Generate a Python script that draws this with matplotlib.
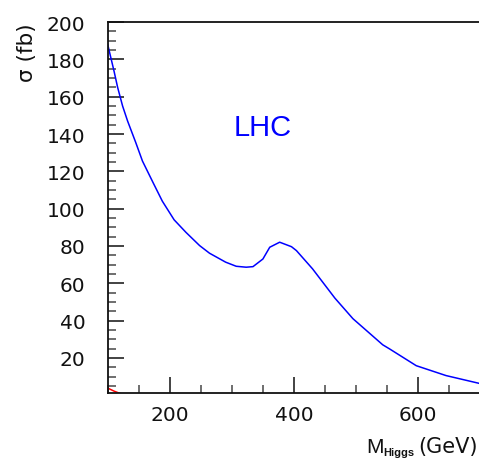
import matplotlib
matplotlib.use("Agg")
import matplotlib.pyplot as plt
from matplotlib.ticker import MultipleLocator

plt.rcParams['font.family'] = ['DejaVu Sans']

# Data
mass = [100, 105, 110, 116, 124, 132, 145, 156, 173, 188, 207, 226, 248, 264,
        290, 307, 323, 334, 350, 361, 377, 396, 404, 430, 466, 495, 543, 554,
        597, 645, 700]
sigma_lhc = [188, 181, 174, 165, 155, 147, 135.6, 125.5, 114, 104, 94, 87.3,
             80.2, 76.1, 71.3, 69.1, 68.6, 68.9, 73, 79.3, 82, 79.6, 77.5, 67.7,
             52, 41, 27, 24.8, 15.8, 10.5, 6.2]
mass_red = [100, 110, 120, 130]
sigma_red = [3.8, 2.2, 0.9, 0.0]

xticks = [200, 400, 600]
yticks = [20, 40, 60, 80, 100, 120, 140, 160, 180, 200]

W, H = 479, 460
fig = plt.figure(figsize=(W / 100, H / 100), dpi=100)
ax = fig.add_axes([107.7 / W, 65.7 / H, (480.2 - 107.7) / W, (394.3 - 23.1) / H])

ax.plot(mass, sigma_lhc, color='#0000ff', lw=1.1)
ax.plot(mass_red, sigma_red, color='#ff0000', lw=1.1)

ax.set_xlim(100, 700)
ax.set_ylim(1, 200)
ax.set_xticks(xticks)
ax.set_yticks(yticks)
ax.xaxis.set_minor_locator(MultipleLocator(50))
ax.yaxis.set_minor_locator(MultipleLocator(5))

for s in ['left', 'bottom', 'top']:
    ax.spines[s].set_linewidth(1.3)
    ax.spines[s].set_color('#111111')
ax.spines['right'].set_visible(False)

ax.tick_params(axis='both', which='both', direction='in', top=False, right=False)
ax.tick_params(axis='both', which='major', length=11.5, width=1.2, color='#222222',
               labelsize=14.5, labelcolor='#111111')
ax.tick_params(axis='both', which='minor', length=5.8, width=1.2, color='#555555')
ax.tick_params(axis='y', which='major', pad=16)
ax.tick_params(axis='x', which='major', pad=8.3)

ax.text(349, 139.5, 'LHC', color='#0000ff', fontsize=21, ha='center', va='baseline',
        family='Liberation Sans')

# x-axis title: M with small bold subscript, then (GeV)
fig.text(366 / W, 1 - 453 / H, 'M', fontsize=15, ha='left', va='baseline',
         color='#111111', family='Liberation Sans')
fig.text(383 / W, 1 - 456 / H, 'Higgs', fontsize=8, fontweight='bold', ha='left',
         va='baseline', color='#111111', family='Liberation Sans')
fig.text(478 / W, 1 - 453 / H, '(GeV)', fontsize=15, ha='right', va='baseline',
         color='#111111')
fig.text(27 / W, 1 - 23 / H, 'σ (fb)', fontsize=15.5, rotation=90,
         ha='center', va='top', color='#111111')

fig.savefig('out.png', dpi=100)
